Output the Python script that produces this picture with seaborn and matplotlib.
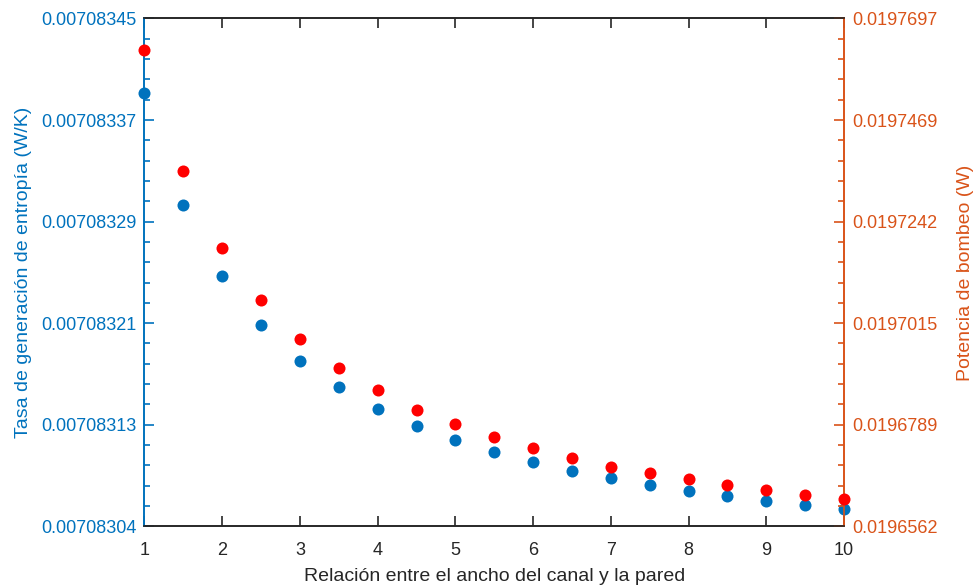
import numpy as np
import pandas as pd
import seaborn as sns
import matplotlib
matplotlib.use("Agg")
import matplotlib.pyplot as plt
from matplotlib.ticker import FixedLocator, FixedFormatter, AutoMinorLocator

# Datos
relacion = [1, 1.5, 2, 2.5, 3, 3.5, 4, 4.5, 5, 5.5, 6, 6.5, 7, 7.5, 8, 8.5, 9, 9.5, 10]
entropia = [0.0070833919, 0.0070833024, 0.0070832451, 0.0070832061, 0.0070831768,
            0.0070831557, 0.0070831382, 0.0070831248, 0.0070831133, 0.0070831035,
            0.0070830954, 0.0070830887, 0.0070830830, 0.0070830772, 0.0070830726,
            0.0070830683, 0.0070830646, 0.0070830614, 0.0070830583]
bombeo = [0.01976259, 0.01973555, 0.01971834, 0.01970667, 0.01969813,
          0.01969158, 0.01968660, 0.01968219, 0.01967900, 0.01967623,
          0.01967370, 0.01967147, 0.01966952, 0.01966805, 0.01966677,
          0.01966550, 0.01966431, 0.01966326, 0.01966230]

ent_lim = (0.007083044, 0.007083452)
ent_labels = ["0.00708304", "0.00708313", "0.00708321", "0.00708329", "0.00708337", "0.00708345"]
bom_lim = (0.0196562, 0.0197697)
bom_labels = ["0.0196562", "0.0196789", "0.0197015", "0.0197242", "0.0197469", "0.0197697"]

df = pd.DataFrame({"relacion": relacion, "entropia": entropia, "bombeo": bombeo})

sns.set_theme(style="white")
plt.rcParams['font.family'] = ['Liberation Sans', 'DejaVu Sans']

azul = "#0072BD"
naranja = "#D95319"
gris = "#262626"

fig = plt.figure(figsize=(9.77, 5.87), dpi=100)
ax = fig.add_axes([0.1479, 0.1034, 0.7160, 0.8651])
ax2 = ax.twinx()

sns.scatterplot(data=df, x="relacion", y="entropia", ax=ax, color=azul, s=75,
                linewidth=0, zorder=3, clip_on=False)
sns.scatterplot(data=df, x="relacion", y="bombeo", ax=ax2, color="#FF0000", s=75,
                linewidth=0, zorder=3, clip_on=False)

ax.set_xlim(1, 10)
ax.set_xticks(range(1, 11))
ax.set_ylim(*ent_lim)
ax.yaxis.set_major_locator(FixedLocator(np.linspace(ent_lim[0], ent_lim[1], 6)))
ax.yaxis.set_major_formatter(FixedFormatter(ent_labels))
ax.yaxis.set_minor_locator(AutoMinorLocator(5))

ax2.set_ylim(*bom_lim)
ax2.yaxis.set_major_locator(FixedLocator(np.linspace(bom_lim[0], bom_lim[1], 6)))
ax2.yaxis.set_major_formatter(FixedFormatter(bom_labels))
ax2.yaxis.set_minor_locator(AutoMinorLocator(5))

fs = 13
ax.set_xlabel("Relación entre el ancho del canal y la pared", fontsize=14, color=gris, labelpad=7)
ax.set_ylabel("Tasa de generación de entropía (W/K)", fontsize=14, color=azul, labelpad=6)
ax2.set_ylabel("Potencia de bombeo (W)", fontsize=14, color=naranja, labelpad=14)

ax.tick_params(axis="x", which="major", direction="in", length=7, width=1.2,
               top=True, bottom=True, colors=gris, labelsize=fs, pad=11)
ax.tick_params(axis="y", which="major", direction="in", length=7, width=1.2,
               colors=azul, labelsize=fs, pad=6)
ax.tick_params(axis="y", which="minor", direction="in", length=4, width=1.2, colors=azul)
ax2.tick_params(axis="y", which="major", direction="in", length=7, width=1.2,
                colors=naranja, labelsize=fs, pad=6)
ax2.tick_params(axis="y", which="minor", direction="in", length=4, width=1.2, colors=naranja)

for a in (ax, ax2):
    a.spines["top"].set_color(gris)
    a.spines["bottom"].set_color(gris)
    a.spines["left"].set_color(azul)
    a.spines["right"].set_color(naranja)
    for s in a.spines.values():
        s.set_linewidth(1.2)
    a.grid(False)

fig.savefig("out.png", dpi=100)
